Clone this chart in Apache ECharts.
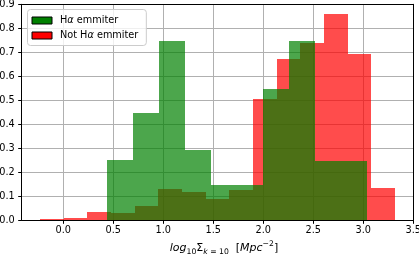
<!DOCTYPE html>
<html>
<head>
<meta charset="utf-8">
<script src="https://cdn.jsdelivr.net/npm/echarts@6/dist/echarts.min.js"></script>
<style>
html,body{margin:0;padding:0;background:#fff;}
#chart{width:419px;height:258px;}
</style>
</head>
<body>
<div id="chart"></div>
<script>
// Histogram data
const seriesNames = ['Hα emmiter', 'Not Hα emmiter'];
const haEdges = [0.434, 0.695, 0.955, 1.216, 1.476, 1.737, 1.997, 2.258, 2.518, 2.779, 3.040];
const haValues = [0.25, 0.447, 0.747, 0.294, 0.147, 0.147, 0.547, 0.747, 0.247, 0.247];
const notHaEdges = [-0.233, 0.004, 0.240, 0.477, 0.714, 0.950, 1.187, 1.424, 1.660, 1.897, 2.134, 2.370, 2.607, 2.844, 3.080, 3.317];
const notHaValues = [0.004, 0.011, 0.036, 0.032, 0.06, 0.13, 0.117, 0.089, 0.126, 0.505, 0.672, 0.739, 0.86, 0.693, 0.135];
const xTicks = [0.0, 0.5, 1.0, 1.5, 2.0, 2.5, 3.0, 3.5];

function bins(edges, values) {
  return values.map((v, i) => [edges[i], edges[i + 1], v]);
}

function makeRender(fill) {
  return function (params, api) {
    const x0 = api.value(0), x1 = api.value(1), h = api.value(2);
    const p0 = api.coord([x0, h]);
    const p1 = api.coord([x1, 0]);
    const l = Math.round(p0[0]), r = Math.round(p1[0]);
    const t = Math.round(p0[1]), b = Math.round(p1[1]);
    return {
      type: 'rect',
      shape: { x: l, y: t, width: r - l, height: b - t },
      style: { fill: fill }
    };
  };
}

const chart = echarts.init(document.getElementById('chart'), null, { renderer: 'canvas' });
const FONT = 'DejaVu Sans';

chart.setOption({
  animation: false,
  backgroundColor: '#fff',
  textStyle: { fontFamily: FONT },
  grid: { left: 21.7, top: 4.3, width: 391.6, height: 216, containLabel: false, outerBoundsMode: 'none' },
  legend: {
    orient: 'vertical',
    left: 27.5,
    top: 9.5,
    padding: [6, 8, 5, 4],
    itemGap: 5,
    itemWidth: 20,
    itemHeight: 7,
    backgroundColor: 'rgba(255,255,255,0.8)',
    borderColor: '#cccccc',
    borderWidth: 1,
    borderRadius: 3,
    data: [
      { name: seriesNames[0], icon: 'rect', itemStyle: { color: '#008000', borderColor: '#000', borderWidth: 1, opacity: 1 } },
      { name: seriesNames[1], icon: 'rect', itemStyle: { color: '#ff0000', borderColor: '#000', borderWidth: 1, opacity: 1 } }
    ],
    formatter: function (name) {
      const k = name.indexOf('Hα');
      const pre = name.slice(0, k), post = name.slice(k + 2);
      return (pre ? '{n|' + pre + '}' : '') + '{n|H}{i|α}{n|' + post + '}';
    },
    textStyle: {
      fontFamily: FONT,
      fontSize: 9.72,
      color: '#000',
      padding: [0, 0, 0, 3],
      rich: {
        n: { fontFamily: FONT, fontSize: 9.72, color: '#000' },
        i: { fontFamily: FONT, fontSize: 9.72, fontStyle: 'italic', color: '#000' }
      }
    }
  },
  xAxis: [
    {
      type: 'value',
      min: -0.416,
      max: 3.5,
      position: 'bottom',
      name: '{i|log}{s|10}{n|Σ}{si|k}{s| = 10}{n|  [}{i|Mpc}{sp|−2}{n|]}',
      nameLocation: 'middle',
      nameGap: 19,
      nameTextStyle: {
        padding: [0, 0, 0, 13],
        rich: {
          n: { fontFamily: FONT, fontSize: 11, color: '#000', lineHeight: 16, verticalAlign: 'middle' },
          i: { fontFamily: FONT, fontSize: 11, fontStyle: 'italic', color: '#000', lineHeight: 16, verticalAlign: 'middle' },
          s: { fontFamily: FONT, fontSize: 7.7, color: '#000', lineHeight: 8, verticalAlign: 'bottom' },
          si: { fontFamily: FONT, fontSize: 7.7, fontStyle: 'italic', color: '#000', lineHeight: 8, verticalAlign: 'bottom' },
          sp: { fontFamily: FONT, fontSize: 7.7, color: '#000', lineHeight: 8, verticalAlign: 'top' }
        }
      },
      axisLine: { show: true, onZero: false, lineStyle: { color: '#000', width: 1 } },
      axisTick: { show: true, length: 3.5, customValues: xTicks, lineStyle: { color: '#000', width: 1 } },
      axisLabel: {
        customValues: xTicks,
        margin: 5,
        fontFamily: FONT,
        fontSize: 9.72,
        color: '#000',
        formatter: v => v.toFixed(1)
      },
      splitLine: { show: true, lineStyle: { color: '#b0b0b0', width: 1 } }
    },
    {
      type: 'value',
      min: -0.416,
      max: 3.5,
      position: 'top',
      axisLine: { show: true, onZero: false, lineStyle: { color: '#000', width: 1 } },
      axisTick: { show: false },
      axisLabel: { show: false },
      splitLine: { show: false }
    }
  ],
  yAxis: [
    {
      type: 'value',
      min: 0,
      max: 0.9,
      interval: 0.1,
      position: 'left',
      axisLine: { show: true, onZero: false, lineStyle: { color: '#000', width: 1 } },
      axisTick: { show: true, length: 3.5, lineStyle: { color: '#000', width: 1 } },
      axisLabel: {
        margin: 7,
        fontFamily: FONT,
        fontSize: 9.72,
        color: '#000',
        formatter: v => v.toFixed(1)
      },
      splitLine: { show: true, lineStyle: { color: '#b0b0b0', width: 1 } }
    },
    {
      type: 'value',
      min: 0,
      max: 0.9,
      position: 'right',
      axisLine: { show: true, onZero: false, lineStyle: { color: '#000', width: 1 } },
      axisTick: { show: false },
      axisLabel: { show: false },
      splitLine: { show: false }
    }
  ],
  series: [
    {
      name: seriesNames[1],
      type: 'custom',
      xAxisIndex: 0,
      yAxisIndex: 0,
      clip: true,
      itemStyle: { color: '#ff0000' },
      encode: { x: [0, 1], y: 2 },
      data: bins(notHaEdges, notHaValues),
      renderItem: makeRender('rgba(255,0,0,0.7)'),
      z: 2
    },
    {
      name: seriesNames[0],
      type: 'custom',
      xAxisIndex: 0,
      yAxisIndex: 0,
      clip: true,
      itemStyle: { color: '#008000' },
      encode: { x: [0, 1], y: 2 },
      data: bins(haEdges, haValues),
      renderItem: makeRender('rgba(0,128,0,0.7)'),
      z: 3
    }
  ]
});
</script>
</body>
</html>
